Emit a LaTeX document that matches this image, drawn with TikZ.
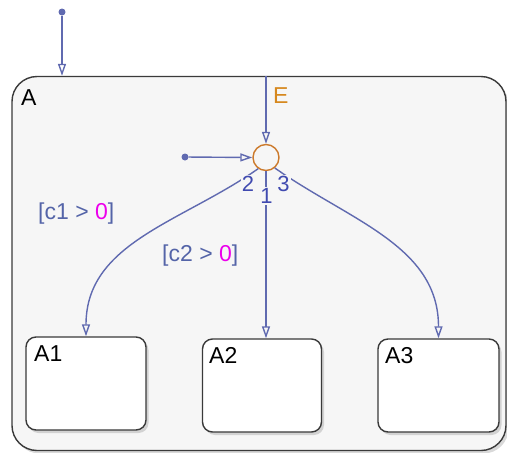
\documentclass[tikz,border=0pt]{standalone}
\usepackage{fontspec}
\setmainfont{Liberation Sans}
\usetikzlibrary{arrows.meta,shadows}

\definecolor{transblue}{RGB}{96,106,176}
\definecolor{condblue}{RGB}{84,100,168}
\definecolor{condpink}{RGB}{236,0,236}
\definecolor{juncorange}{RGB}{204,122,44}
\definecolor{labelorange}{RGB}{214,136,30}
\definecolor{numblue}{RGB}{64,74,176}
\definecolor{chartgray}{RGB}{246,246,246}
\definecolor{edgegray}{RGB}{58,58,58}

\tikzset{
	statebox/.style={draw=edgegray, line width=1.4pt, fill=white, rounded corners=10pt, inner sep=0pt,
		drop shadow={shadow xshift=2.5pt, shadow yshift=-3pt, opacity=0.3}},
	trans/.style={draw=transblue, line width=1.4pt, -{Triangle[open, length=12pt, width=8pt]}},
	txt/.style={font=\fontsize{23}{27}\selectfont, inner sep=0pt},
	numtxt/.style={font=\fontsize{22}{26}\selectfont, text=numblue, fill=chartgray, inner sep=1pt},
	srcdot/.style={circle, fill=transblue, inner sep=0pt, minimum size=7pt}
}

\begin{document}
\begin{tikzpicture}[x=1pt, y=-1pt]
	\useasboundingbox (0,0) rectangle (507,453);

	\node
		[statebox, fill=chartgray, rounded corners=25pt, minimum width=494pt, minimum height=374pt] (A) at (259,263.5) {};
	\node
		[txt, anchor=north west] (Aname) at (21,89) {A};

	\node
		[statebox, minimum width=120pt, minimum height=93pt] (A1) at (86,383.5) {};
	\node
		[statebox, minimum width=119pt, minimum height=93pt] (A2) at (262,385.5) {};
	\node
		[statebox, minimum width=121pt, minimum height=93pt] (A3) at (438.5,385.5) {};

	\node [txt, anchor=north west] (A1name) at (34,345) {A1};
	\node [txt, anchor=north west] (A2name) at (209,347) {A2};
	\node [txt, anchor=north west] (A3name) at (385,347) {A3};

	\node
		[circle, draw=juncorange, line width=1.4pt, minimum size=26pt, inner sep=0pt] (J) at (266,157.5) {};

	\node [srcdot] (topdot) at (62,12) {};
	\node [srcdot] (leftdot) at (185,157) {};

	\draw
		[trans] (topdot) -- (topdot |- A.north);

	\draw
		[trans] (leftdot) -- (J.west);

	\draw
		[trans] (J |- A.north) -- (J.north);
	\node [txt, text=labelorange, anchor=north west] (Ename) at (273,87) {E};

	\draw
		[trans] (J.-125) to [out=-145, in=90] (A1.north);

	\draw
		[trans] (J.south) -- (J |- A2.north);

	\draw
		[trans] (J.-50) to [out=-35, in=90] (A3.north);

	\node [numtxt] (n2) at (248,184) {2};
	\node [numtxt] (n1) at (266.5,196) {1};
	\node [numtxt] (n3) at (283.5,184) {3};

	\node
		[txt, text=condblue, anchor=west] (c1) at (38,214) {[c1 > \textcolor{condpink}{0}]};
	\node
		[txt, text=condblue, anchor=west] (c2) at (162,255.5) {[c2 > \textcolor{condpink}{0}]};
\end{tikzpicture}
\end{document}
